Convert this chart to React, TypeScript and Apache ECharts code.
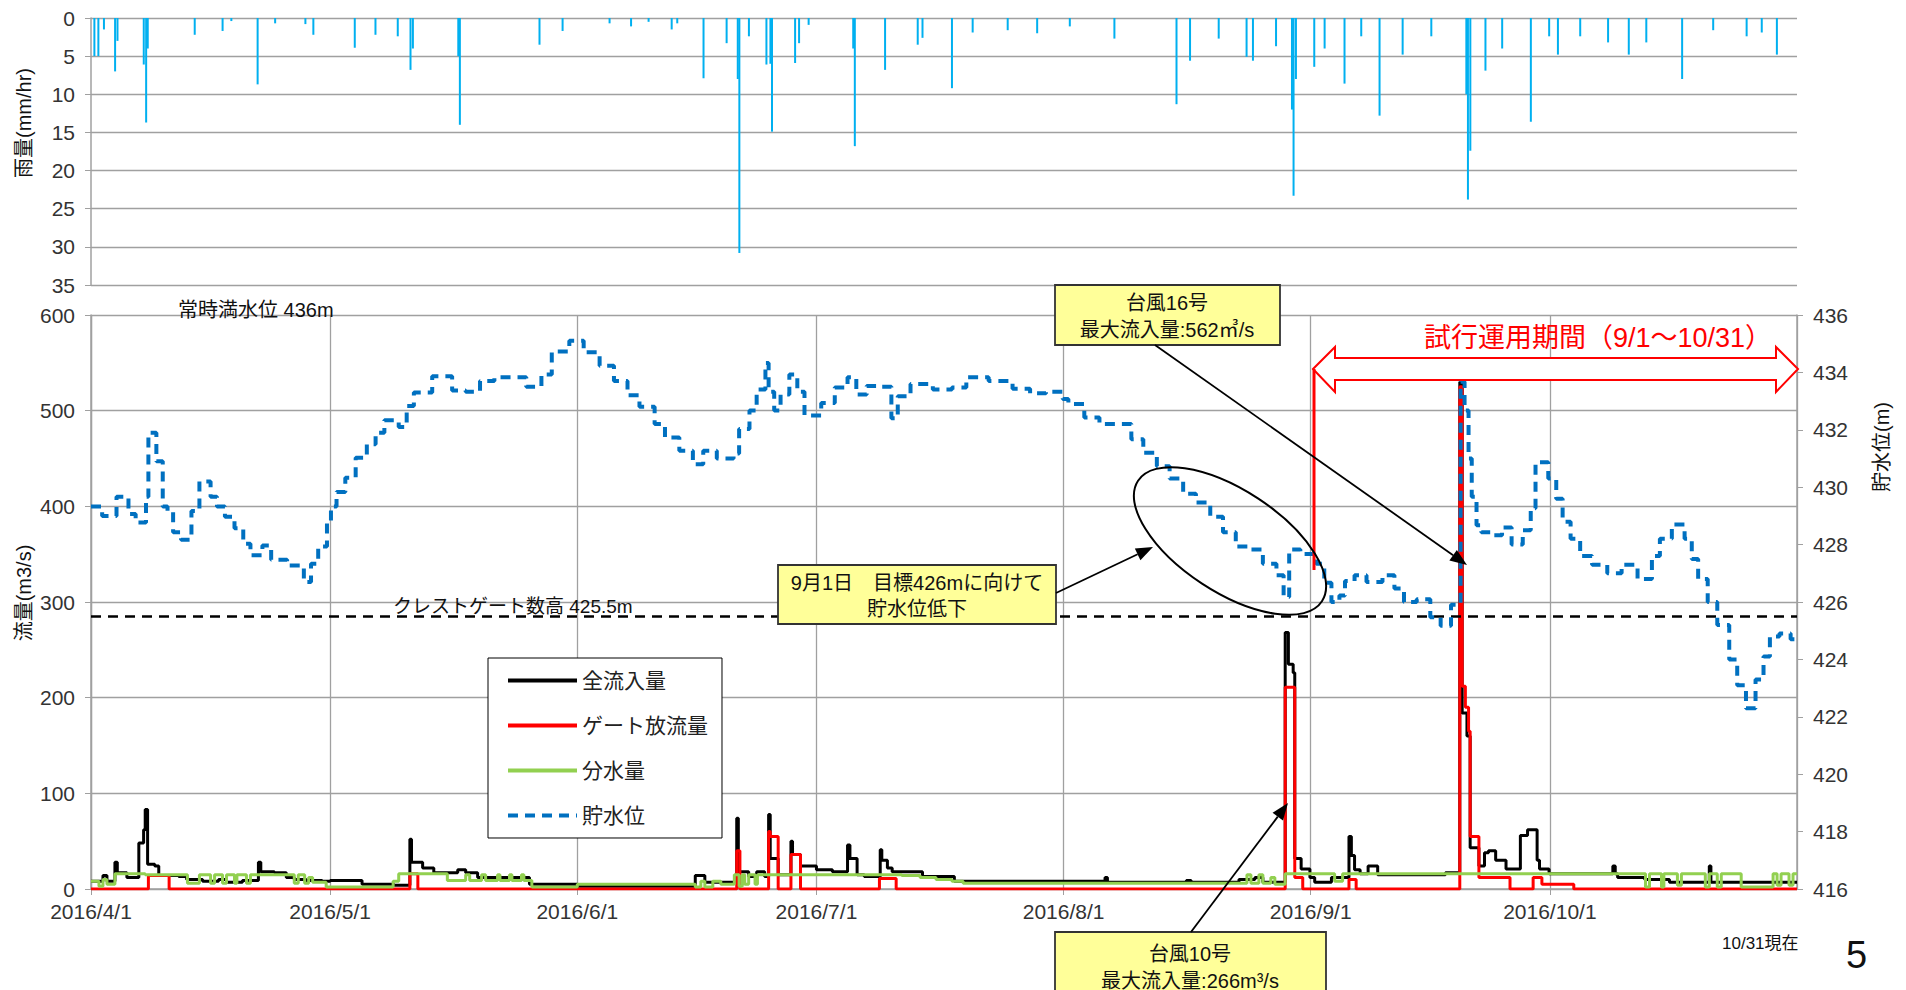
import React, { useEffect, useRef } from "react";
import * as echarts from "echarts";

// ---------- data (day offsets from 2016/4/1) ----------
const rainDays = [0.3, 0.8, 1.5, 2.9, 3.2, 6.5, 6.8, 7.0, 12.9, 16.4, 17.5, 20.8, 23.0, 26.8, 27.8, 33.0, 35.6, 38.4, 40.0, 40.3, 46.0, 46.2, 56.2, 59.1, 65.0, 67.7, 69.9, 72.8, 73.5, 76.8, 79.7, 81.1, 81.3, 82.5, 84.7, 85.2, 85.4, 88.3, 88.8, 90.0, 95.6, 95.8, 99.6, 103.7, 104.3, 108.0, 110.6, 115.0, 118.7, 122.8, 128.4, 136.2, 137.9, 141.5, 145.0, 145.8, 148.7, 150.7, 150.9, 151.2, 153.5, 154.8, 157.3, 159.4, 161.7, 164.6, 168.2, 172.6, 172.8, 173.1, 175.0, 177.1, 180.7, 183.0, 184.1, 186.9, 190.4, 193.0, 195.2, 199.7, 203.6, 207.8, 209.7, 211.6];
const rainValues = [5.0, 5.0, 1.5, 7.0, 3.0, 6.1, 13.7, 4.0, 2.2, 1.7, 0.4, 8.7, 0.7, 0.8, 2.2, 3.9, 2.2, 2.4, 6.8, 4.0, 5.0, 14.0, 3.5, 1.7, 0.7, 1.1, 0.5, 1.5, 0.7, 7.9, 3.3, 8.0, 30.8, 2.4, 6.1, 6.0, 14.9, 5.9, 3.3, 0.9, 4.0, 16.8, 6.8, 3.5, 2.6, 9.2, 1.9, 1.6, 2.0, 1.1, 2.7, 11.3, 5.6, 2.7, 5.1, 5.6, 3.7, 12.0, 23.3, 8.0, 6.4, 4.0, 8.6, 2.4, 12.8, 4.8, 2.4, 10.0, 23.8, 17.4, 6.9, 4.0, 13.6, 2.4, 4.8, 2.4, 3.2, 4.8, 3.2, 8.0, 1.6, 2.4, 1.9, 4.8];

const inflowDays = [0, 1.5, 2, 3, 3.3, 4.5, 6, 6.6, 6.8, 7.1, 8, 8.5, 11, 12, 14, 16, 17, 19, 21, 21.3, 23, 24.5, 25.5, 27, 29, 30, 34, 38, 40, 40.2, 41.6, 43, 46, 47, 48.5, 55, 61, 75.8, 77, 81, 81.2, 82.5, 83.5, 84.5, 85, 85.2, 86.2, 87.8, 88, 89, 91, 93, 94.9, 95.2, 96.1, 97, 99, 99.2, 99.9, 100.5, 104.3, 108.3, 127.2, 127.5, 137.4, 138, 144, 146, 147, 149.8, 150.2, 150.8, 151, 151.8, 152.9, 153.5, 155.6, 157.8, 158.1, 158.5, 159.2, 160.2, 161.4, 169.9, 171.7, 172, 172.6, 173, 174.1, 174.8, 175.3, 176.2, 177.5, 179.3, 180.2, 181.4, 181.7, 182.9, 190.9, 191.2, 191.5, 194.9, 198, 203, 203.2, 214];
const inflowValues = [8, 14, 8, 28, 17, 12, 48, 62, 83, 26, 24, 14, 13, 10, 8, 10, 7, 9, 28, 18, 17, 12, 10, 9, 8, 9, 5, 4, 52, 28, 22, 17, 20, 17, 12, 5, 3, 14, 7, 74, 18, 13, 18, 13, 78, 32, 15, 50, 36, 24, 20, 18, 46, 32, 15, 13, 41, 30, 22, 18, 13, 8, 12, 7, 9, 7, 10, 12, 7, 268, 235, 226, 32, 21, 12, 7, 12, 55, 35, 20, 16, 24, 15, 17, 530, 184, 160, 43, 24, 38, 40, 30, 21, 56, 62, 30, 21, 16, 24, 16, 12, 10, 7, 24, 7, 7];

const gateDays = [0, 7.2, 9.8, 40, 41, 81, 81.4, 85, 85.2, 86.2, 87.8, 89, 98.9, 101, 149.8, 151, 152, 157.8, 158.7, 171.7, 172, 172.4, 172.8, 173, 174.1, 178, 180.9, 182, 186, 214];
const gateValues = [0, 14, 0, 16, 0, 40, 0, 60, 55, 0, 36, 0, 11, 0, 211, 12, 0, 10, 0, 525, 212, 190, 165, 55, 12, 0, 12, 5, 0, 0];

const divDays = [0, 1, 1.5, 2, 3, 6.8, 12.1, 13.6, 15, 15.5, 16.5, 17, 18, 18.3, 19.5, 20, 25.5, 26, 26.8, 27.3, 27.8, 29.5, 37.9, 38.6, 44.7, 47, 47.5, 49, 49.5, 51, 51.3, 52.5, 52.8, 54, 54.3, 55.3, 61, 75.8, 76.5, 77, 78, 79, 80.7, 81.3, 81.7, 82, 82.5, 83.3, 83.6, 101.7, 104, 106, 108, 109.4, 145, 145.5, 146.5, 147, 148, 148.5, 149.8, 156, 157, 195, 195.5, 197, 197.3, 199, 199.5, 202.5, 203, 204, 204.5, 207, 211, 211.5, 212, 213, 213.5, 214];
const divValues = [8, 3, 10, 5, 16, 15, 6, 15, 6, 15, 6, 15, 6, 15, 6, 15, 6, 15, 6, 12, 7, 2, 8, 16, 9, 15, 9, 15, 9, 15, 9, 15, 9, 15, 9, 2, 5, 2, 8, 2, 8, 5, 15, 3, 15, 5, 15, 5, 15, 14, 12, 10, 8, 6, 15, 6, 15, 6, 12, 5, 16, 8, 16, 2, 16, 2, 16, 4, 16, 2, 16, 2, 16, 2, 16, 4, 16, 4, 16, 16];

const levelDays = [0, 1.4, 3.2, 4.7, 5.6, 6.9, 7.2, 8.2, 9.0, 9.6, 10.3, 11.3, 12.6, 13.6, 15.0, 15.8, 16.8, 18.0, 19.1, 20.0, 21.5, 22.6, 24.6, 26.7, 27.6, 28.5, 29.6, 30.1, 30.8, 31.9, 33.2, 34.6, 35.7, 36.8, 38.6, 39.6, 40.5, 42.8, 45.3, 47.0, 48.8, 50.6, 54.6, 56.5, 57.8, 60.0, 61.8, 63.8, 65.6, 67.3, 68.8, 70.7, 72.0, 73.8, 75.5, 76.8, 78.5, 80.6, 81.3, 82.6, 83.5, 84.6, 85.0, 85.7, 86.5, 87.6, 88.6, 89.5, 91.6, 93.3, 94.9, 96.0, 97.3, 98.8, 100.4, 101.2, 102.8, 105.6, 108.0, 109.8, 112.6, 115.6, 117.8, 119.8, 121.9, 122.6, 124.6, 126.5, 130.5, 132.0, 133.7, 135.3, 137.0, 138.6, 140.4, 142.0, 143.6, 145.3, 147.0, 148.7, 149.6, 150.3, 151.7, 153.7, 154.7, 155.6, 156.6, 157.3, 158.5, 160.0, 162.0, 163.5, 164.7, 166.3, 168.0, 169.3, 170.6, 171.8, 172.3, 172.8, 173.2, 173.8, 174.4, 175.6, 177.0, 178.2, 179.6, 180.6, 181.2, 182.8, 183.8, 184.6, 185.6, 186.8, 188.3, 190.2, 192.0, 194.0, 195.8, 196.8, 198.3, 199.9, 200.8, 201.6, 202.8, 204.0, 205.5, 206.5, 207.6, 208.8, 209.8, 210.6, 211.8, 213.2, 214];
const levelValues = [429.33, 429.0, 429.67, 429.07, 428.77, 429.67, 431.9, 430.9, 429.33, 429.17, 428.43, 428.17, 429.17, 430.2, 429.67, 429.33, 428.97, 428.57, 428.03, 427.63, 427.97, 427.47, 427.27, 426.7, 427.33, 427.93, 428.8, 429.33, 429.83, 430.33, 431.03, 431.5, 431.9, 432.33, 432.1, 432.83, 433.3, 433.87, 433.37, 433.33, 433.7, 433.83, 433.5, 433.93, 434.73, 435.1, 434.7, 434.23, 433.7, 433.2, 432.8, 432.2, 431.73, 431.27, 430.8, 431.27, 431.0, 431.17, 432.03, 432.67, 433.4, 434.33, 433.33, 432.67, 433.23, 433.93, 433.33, 432.5, 432.93, 433.47, 433.83, 433.23, 433.53, 433.5, 432.4, 433.17, 433.6, 433.4, 433.47, 433.83, 433.7, 433.43, 433.27, 433.33, 433.07, 432.9, 432.43, 432.2, 431.67, 431.2, 430.73, 430.3, 429.77, 429.47, 428.97, 428.43, 427.93, 427.83, 427.33, 426.93, 426.17, 427.83, 427.67, 427.33, 426.67, 426.0, 426.23, 426.73, 426.93, 426.7, 426.93, 426.47, 426.0, 426.1, 425.47, 425.17, 425.9, 433.67, 432.67, 431.0, 429.67, 428.67, 428.43, 428.33, 428.6, 428.0, 428.5, 429.27, 430.87, 430.3, 429.6, 428.8, 428.2, 427.6, 427.3, 427.0, 427.3, 426.8, 427.6, 428.2, 428.7, 428.2, 427.5, 426.8, 426.0, 425.2, 424.0, 423.1, 422.3, 423.3, 424.1, 424.8, 424.9, 424.7, 424.7];

const crestLevel = 425.5;
const monthLabelsHiddenAfter = 10; // November tick is not labelled

// ---------- helpers ----------
const DAY = 86400000;
const t = (d: number) => {
  const whole = Math.floor(d);
  return new Date(2016, 3, 1 + whole).getTime() + (d - whole) * DAY;
};
const pairs = (days: number[], vals: number[]) => days.map((d, i) => [t(d), vals[i]]);

const FF = '"Liberation Sans", Arial, "Noto Sans CJK JP", sans-serif';
const GRID = "#a0a0a0";

function arrow(x1: number, y1: number, x2: number, y2: number) {
  const ang = Math.atan2(y2 - y1, x2 - x1);
  const L = 17, W = 6.5;
  const bx = x2 - L * Math.cos(ang), by = y2 - L * Math.sin(ang);
  const px = -Math.sin(ang) * W, py = Math.cos(ang) * W;
  return [
    { type: "line", z: 100, shape: { x1, y1, x2: bx, y2: by }, style: { stroke: "#000", lineWidth: 1.8 } },
    { type: "polygon", z: 100, shape: { points: [[x2, y2], [bx + px, by + py], [bx - px, by - py]] }, style: { fill: "#000" } },
  ];
}

function txt(text: string, x: number, y: number, size: number, opts: any = {}) {
  return {
    type: "text",
    z: 101,
    x,
    y,
    rotation: opts.rotation || 0,
    style: {
      text,
      fill: opts.color || "#111",
      fontSize: size,
      fontFamily: FF,
      textAlign: opts.align || "left",
      textVerticalAlign: "middle",
      lineHeight: opts.lineHeight || size * 1.3,
    },
  };
}

function box(x: number, y: number, w: number, h: number) {
  return { type: "rect", z: 100, shape: { x, y, width: w, height: h }, style: { fill: "#ffff99", stroke: "#333", lineWidth: 1.8 } };
}

export default function App() {
  const ref = useRef<HTMLDivElement>(null);

  useEffect(() => {
    if (!ref.current) return;
    const chart = echarts.init(ref.current, null, { renderer: "svg" });

    const xMin = t(0), xMax = t(214);
    const fmt = (v: number) => {
      const d = new Date(v);
      if (d.getMonth() >= monthLabelsHiddenAfter) return "";
      return `${d.getFullYear()}/${d.getMonth() + 1}/${d.getDate()}`;
    };

    const graphic: any[] = [
      txt("雨量(mm/hr)", 24, 123, 20, { rotation: Math.PI / 2, align: "center" }),
      txt("流量(m3/s)", 24, 593, 20, { rotation: Math.PI / 2, align: "center" }),
      txt("貯水位(m)", 1882, 447, 20, { rotation: Math.PI / 2, align: "center" }),
      txt("常時満水位 436m", 178, 310, 20),
      txt("クレストゲート数高 425.5m", 393, 606, 19),
      txt("試行運用期間（9/1〜10/31）", 1424, 338, 27, { color: "#ff0000" }),
      {
        type: "polygon",
        z: 99,
        shape: {
          points: [
            [1313, 369], [1335, 347], [1335, 358], [1776, 358], [1776, 347], [1798, 369],
            [1776, 392], [1776, 380], [1335, 380], [1335, 392],
          ],
        },
        style: { fill: "#fff", stroke: "#ff0000", lineWidth: 2 },
      },
      { type: "line", z: 99, shape: { x1: 1314, y1: 369, x2: 1314, y2: 570 }, style: { stroke: "#ff0000", lineWidth: 3 } },
      {
        type: "ellipse",
        z: 100,
        x: 1230,
        y: 541,
        rotation: -0.58,
        shape: { cx: 0, cy: 0, rx: 110, ry: 51 },
        style: { fill: "none", stroke: "#000", lineWidth: 2 },
      },
      box(1055, 285, 225, 60),
      txt("台風16号\n最大流入量:562㎥/s", 1167, 316, 20, { align: "center", lineHeight: 27 }),
      box(778, 565, 278, 59),
      txt("9月1日　目標426mに向けて\n貯水位低下", 917, 596, 20, { align: "center", lineHeight: 26 }),
      box(1055, 932, 271, 70),
      txt("台風10号\n最大流入量:266m³/s", 1190, 967, 20, { align: "center", lineHeight: 27 }),
      ...arrow(1155, 345, 1467, 565),
      ...arrow(1056, 593, 1153, 547),
      ...arrow(1191, 932, 1288, 803),
      txt("10/31現在", 1722, 943, 17),
      txt("5", 1846, 955, 38),
    ];

    const axisLabel = { fontSize: 21, color: "#333", fontFamily: FF };

    chart.setOption({
      animation: false,
      backgroundColor: "#fff",
      textStyle: { fontFamily: FF },
      grid: [
        { left: 91, top: 18, width: 1706, height: 267 },
        { left: 91, top: 315, width: 1706, height: 574 },
      ],
      legend: {
        orient: "vertical",
        left: 488,
        top: 658,
        padding: [12, 14, 12, 18],
        itemWidth: 69,
        itemHeight: 14,
        itemGap: 24,
        selectedMode: false,
        backgroundColor: "#fff",
        borderColor: "#000",
        borderWidth: 1,
        z: 50,
        itemStyle: { opacity: 0 },
        lineStyle: { width: 4 },
        textStyle: { fontSize: 21, color: "#222", fontFamily: FF },
        data: ["全流入量", "ゲート放流量", "分水量", "貯水位"],
      },
      xAxis: [
        {
          type: "time",
          gridIndex: 0,
          min: xMin,
          max: xMax,
          axisLine: { show: false },
          axisTick: { show: false },
          axisLabel: { show: false },
          splitLine: { show: false },
        },
        {
          type: "time",
          gridIndex: 1,
          min: xMin,
          max: xMax,
          splitNumber: 7,
          minInterval: 28 * DAY,
          maxInterval: 31 * DAY,
          axisLine: { lineStyle: { color: GRID, width: 1.5 } },
          axisTick: { show: true, length: 6, lineStyle: { color: GRID } },
          axisLabel: { ...axisLabel, margin: 12, formatter: fmt, showMaxLabel: false },
          splitLine: { show: true, lineStyle: { color: GRID, width: 1.3 } },
        },
      ],
      yAxis: [
        {
          type: "value",
          gridIndex: 0,
          inverse: true,
          min: 0,
          max: 35,
          interval: 5,
          axisLine: { show: true, lineStyle: { color: GRID, width: 1.5 } },
          axisTick: { show: true, length: 6, lineStyle: { color: GRID } },
          axisLabel: { ...axisLabel, margin: 16 },
          splitLine: { show: true, lineStyle: { color: GRID, width: 1.3 } },
        },
        {
          type: "value",
          gridIndex: 1,
          min: 0,
          max: 600,
          interval: 100,
          axisLine: { show: true, lineStyle: { color: GRID, width: 1.5 } },
          axisTick: { show: true, length: 6, lineStyle: { color: GRID } },
          axisLabel: { ...axisLabel, margin: 16 },
          splitLine: { show: true, lineStyle: { color: GRID, width: 1.3 } },
        },
        {
          type: "value",
          gridIndex: 1,
          position: "right",
          min: 416,
          max: 436,
          interval: 2,
          axisLine: { show: true, lineStyle: { color: GRID, width: 1.5 } },
          axisTick: { show: true, length: 6, lineStyle: { color: GRID } },
          axisLabel: { ...axisLabel, margin: 16 },
          splitLine: { show: false },
        },
      ],
      series: [
        {
          name: "雨量",
          type: "bar",
          xAxisIndex: 0,
          yAxisIndex: 0,
          barWidth: 2,
          itemStyle: { color: "#00b0f0" },
          data: pairs(rainDays, rainValues),
        },
        {
          name: "全流入量",
          type: "line",
          xAxisIndex: 1,
          yAxisIndex: 1,
          step: "end",
          symbol: "none",
          lineStyle: { color: "#000", width: 3 },
          itemStyle: { color: "#000" },
          data: pairs(inflowDays, inflowValues),
          z: 3,
        },
        {
          name: "ゲート放流量",
          type: "line",
          xAxisIndex: 1,
          yAxisIndex: 1,
          step: "end",
          symbol: "none",
          lineStyle: { color: "#ff0000", width: 3 },
          itemStyle: { color: "#ff0000" },
          data: pairs(gateDays, gateValues),
          z: 4,
        },
        {
          name: "分水量",
          type: "line",
          xAxisIndex: 1,
          yAxisIndex: 1,
          step: "end",
          symbol: "none",
          lineStyle: { color: "#92d050", width: 3 },
          itemStyle: { color: "#92d050" },
          data: pairs(divDays, divValues),
          z: 5,
        },
        {
          name: "貯水位",
          type: "line",
          xAxisIndex: 1,
          yAxisIndex: 2,
          step: "end",
          symbol: "none",
          lineStyle: { color: "#0070c0", width: 4, type: [10, 7] },
          itemStyle: { color: "#0070c0" },
          data: pairs(levelDays, levelValues),
          z: 6,
          markLine: {
            silent: true,
            symbol: "none",
            label: { show: false },
            lineStyle: { color: "#000", width: 2.5, type: [10, 7] },
            data: [{ yAxis: crestLevel }],
          },
        },
      ],
      graphic,
    });

    return () => chart.dispose();
  }, []);

  return (
    <div
      ref={ref}
      style={{ position: "fixed", left: 0, top: 0, width: 1906, height: 990, background: "#fff" }}
    />
  );
}
